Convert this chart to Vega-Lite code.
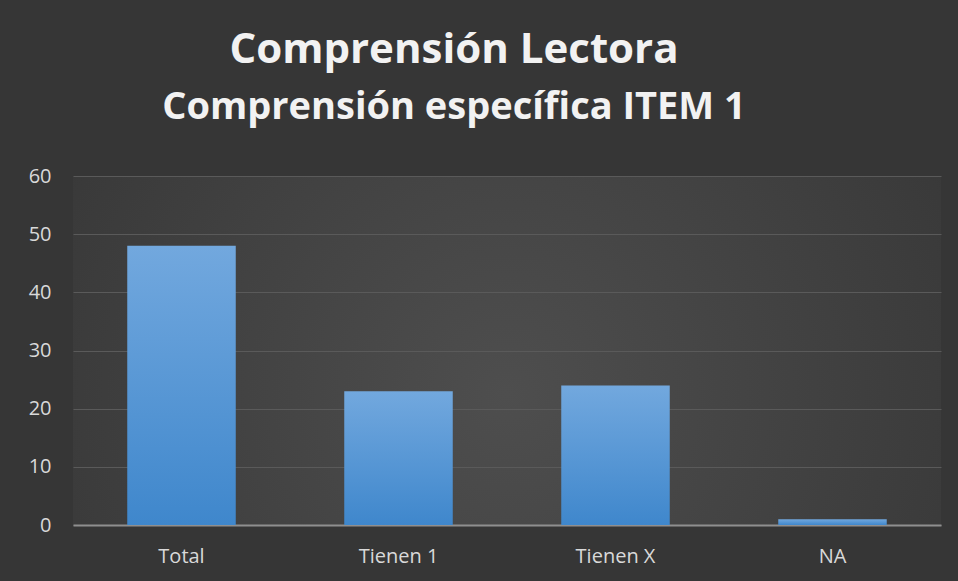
{
  "$schema": "https://vega.github.io/schema/vega-lite/v6.json",
  "width": 868,
  "height": 349,
  "autosize": {"type": "none"},
  "padding": {"left": 73, "top": 176, "right": 17, "bottom": 56},
  "background": "#363636",
  "title": {
    "text": "Comprensión Lectora",
    "subtitle": "Comprensión específica ITEM 1",
    "anchor": "middle",
    "dx": -53,
    "offset": 38,
    "font": "Open Sans",
    "fontSize": 42,
    "fontWeight": "bold",
    "color": "#f2f2f2",
    "subtitleFont": "Open Sans",
    "subtitleFontSize": 38,
    "subtitleFontWeight": "bold",
    "subtitleColor": "#f2f2f2",
    "subtitlePadding": 17
  },
  "data": {
    "values": [
      {"categoria": "Total", "valor": 48},
      {"categoria": "Tienen 1", "valor": 23},
      {"categoria": "Tienen X", "valor": 24},
      {"categoria": "NA", "valor": 1}
    ]
  },
  "mark": {
    "type": "bar",
    "color": {
      "gradient": "linear",
      "x1": 0, "y1": 0, "x2": 0, "y2": 1,
      "stops": [
        {"offset": 0, "color": "#72a8de"},
        {"offset": 1, "color": "#3f87cc"}
      ]
    }
  },
  "encoding": {
    "x": {
      "field": "categoria",
      "type": "nominal",
      "sort": null,
      "scale": {"paddingInner": 0.5, "paddingOuter": 0.25},
      "axis": {
        "title": null,
        "labelAngle": 0,
        "labelFont": "Open Sans",
        "labelFontSize": 20,
        "labelColor": "#d9d9d9",
        "labelPadding": 21,
        "ticks": false,
        "domainColor": "#8f8f8f",
        "domainWidth": 2,
        "grid": false
      }
    },
    "y": {
      "field": "valor",
      "type": "quantitative",
      "scale": {"domain": [0, 60]},
      "axis": {
        "title": null,
        "values": [0, 10, 20, 30, 40, 50, 60],
        "labelFont": "Open Sans",
        "labelFontSize": 20,
        "labelColor": "#d9d9d9",
        "labelPadding": 22,
        "ticks": false,
        "domain": false,
        "gridColor": "#5a5a5a",
        "gridWidth": 1
      }
    }
  },
  "config": {
    "view": {
      "stroke": null,
      "fill": {
        "gradient": "radial",
        "x1": 0.5, "y1": 0.55, "r1": 0,
        "x2": 0.5, "y2": 0.55, "r2": 0.6,
        "stops": [
          {"offset": 0, "color": "#4e4e4e"},
          {"offset": 1, "color": "#383838"}
        ]
      }
    }
  }
}
